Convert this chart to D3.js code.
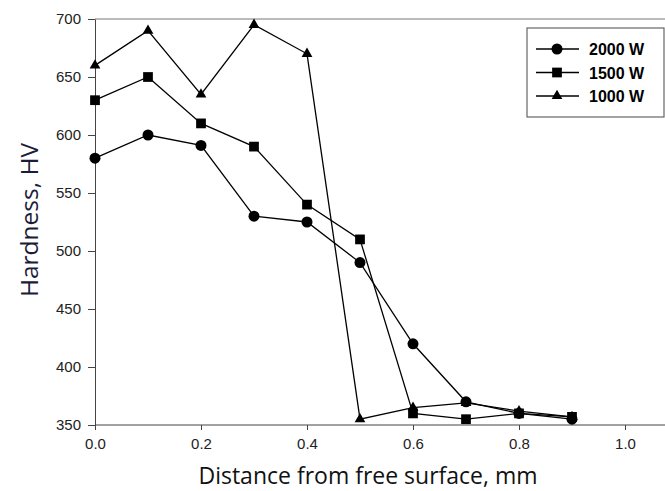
<!DOCTYPE html>
<html>
<head>
<meta charset="utf-8">
<script src="https://cdn.jsdelivr.net/npm/d3@7"></script>
<style>
  body { margin: 0; background: #fff; }
  .tick text { font-family: "Liberation Sans", Arial, sans-serif; font-size: 15px; fill: #222; }
  .axis path, .axis line { stroke: #444; }
</style>
</head>
<body>
<div id="chart"></div>
<script>
var distance = [0.0, 0.1, 0.2, 0.3, 0.4, 0.5, 0.6, 0.7, 0.8, 0.9];
var hv2000 = [580, 600, 591, 530, 525, 490, 420, 370, 360, 355];
var hv1500 = [630, 650, 610, 590, 540, 510, 360, 355, 360, 357];
var hv1000 = [660, 690, 635, 695, 670, 355, 365, 369, 362, 357];
var seriesNames = ["2000 W", "1500 W", "1000 W"];
var xTicks = [0.0, 0.2, 0.4, 0.6, 0.8, 1.0];
var yTicks = [350, 400, 450, 500, 550, 600, 650, 700];

var W = 665, H = 491;
var margin = { top: 19, left: 95, bottom: 66, right: 0 };
var width = W - margin.left - margin.right;
var height = H - margin.top - margin.bottom;

var svg = d3.select("#chart").append("svg")
    .attr("width", W)
    .attr("height", H)
    .append("g")
    .attr("transform", "translate(" + margin.left + "," + margin.top + ")");

var x = d3.scaleLinear().domain([0, 1.0]).range([0, 530]);
var y = d3.scaleLinear().domain([350, 700]).range([height, 0]);

// frame: top line
svg.append("line")
    .attr("x1", 0).attr("x2", width)
    .attr("y1", 0).attr("y2", 0)
    .attr("stroke", "#777").attr("stroke-width", 1);

// axes
var xAxis = d3.axisBottom(x).tickValues(xTicks)
    .tickFormat(d3.format(".1f")).tickSize(5).tickSizeOuter(0);
var gx = svg.append("g")
    .attr("class", "axis x_axis")
    .attr("transform", "translate(0," + height + ")")
    .call(xAxis);
gx.select(".domain").remove();
gx.append("line")
    .attr("x1", 0).attr("x2", width)
    .attr("stroke", "#444");
gx.selectAll(".tick text").attr("dy", "1.05em");
gx.selectAll(".tick line").attr("stroke", "#999");

var yAxis = d3.axisLeft(y).tickValues(yTicks)
    .tickFormat(d3.format("d")).tickSize(7).tickSizeOuter(0);
var gy = svg.append("g")
    .attr("class", "axis y_axis")
    .call(yAxis);
gy.selectAll(".tick text").attr("x", -14);

// axis labels
svg.append("text")
    .attr("class", "xlabel")
    .text("Distance from free surface, mm")
    .attr("x", 273)
    .attr("y", height + 59)
    .attr("text-anchor", "middle")
    .style("font-family", "'Open Sans', sans-serif")
    .style("font-size", "23px")
    .style("fill", "#111");

svg.append("text")
    .attr("class", "ylabel")
    .text("Hardness, HV")
    .attr("transform", "translate(" + (38 - margin.left) + "," + (220 - margin.top) + ") rotate(-90)")
    .attr("text-anchor", "middle")
    .style("font-family", "'Open Sans', sans-serif")
    .style("font-size", "24.5px")
    .style("fill", "#1b1b3a");

// series
var series = [
    { name: seriesNames[0], values: hv2000, symbol: d3.symbolCircle, size: 95 },
    { name: seriesNames[1], values: hv1500, symbol: d3.symbolSquare, size: 95 },
    { name: seriesNames[2], values: hv1000, symbol: d3.symbolTriangle, size: 50 }
];

var line = d3.line()
    .x(function (d) { return x(d[0]); })
    .y(function (d) { return y(d[1]); });

series.forEach(function (s) {
    var pts = distance.map(function (d, i) { return [d, s.values[i]]; });
    svg.append("path")
        .datum(pts)
        .attr("d", line)
        .attr("fill", "none")
        .attr("stroke", "#000")
        .attr("stroke-width", 1.3);
    svg.selectAll(null)
        .data(pts)
        .enter().append("path")
        .attr("d", d3.symbol().type(s.symbol).size(s.size))
        .attr("transform", function (d) { return "translate(" + x(d[0]) + "," + y(d[1]) + ")"; })
        .attr("fill", "#000");
});

// legend
var legend = svg.append("g")
    .attr("transform", "translate(" + (527 - margin.left) + "," + (28 - margin.top) + ")");
legend.append("rect")
    .attr("width", 137).attr("height", 89)
    .attr("fill", "#fff")
    .attr("stroke", "#666")
    .attr("stroke-width", 1.2);
series.forEach(function (s, i) {
    var ly = 21 + i * 23.5;
    legend.append("line")
        .attr("x1", 9).attr("x2", 52)
        .attr("y1", ly).attr("y2", ly)
        .attr("stroke", "#000").attr("stroke-width", 1.3);
    legend.append("path")
        .attr("d", d3.symbol().type(s.symbol).size(s.size))
        .attr("transform", "translate(30," + ly + ")")
        .attr("fill", "#000");
    legend.append("text")
        .text(s.name)
        .attr("x", 62)
        .attr("y", ly + 6)
        .style("font-family", "'Liberation Sans', Arial, sans-serif")
        .style("font-weight", "bold")
        .style("font-size", "16px");
});
</script>
</body>
</html>
